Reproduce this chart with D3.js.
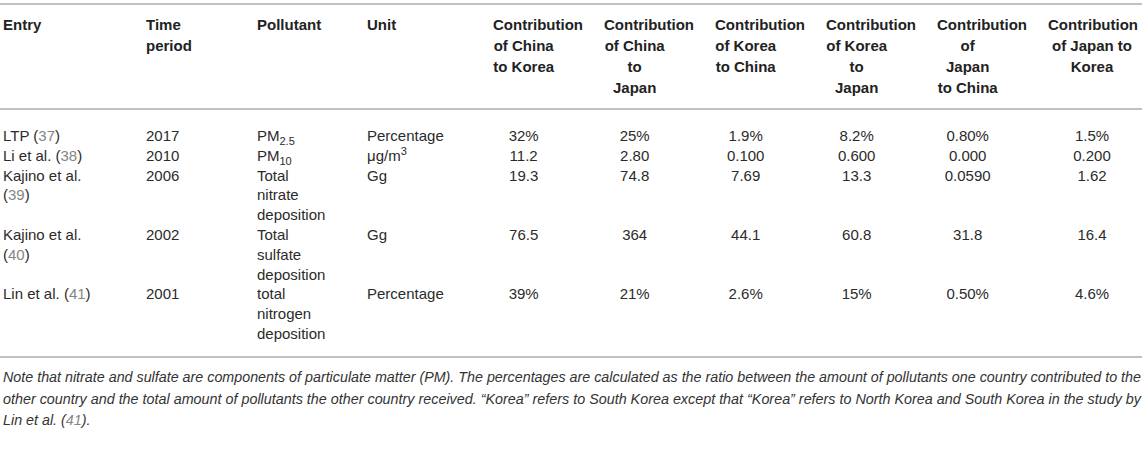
<!DOCTYPE html>
<html><head><meta charset="utf-8">
<script src="https://cdn.jsdelivr.net/npm/d3@7"></script>
<style>
body{margin:0;background:#fff}
svg{display:block}
text{font-family:"Liberation Sans",Arial,Helvetica,sans-serif}
</style>
</head><body>
<svg id="c" width="1145" height="455"></svg>
<script>
// ---------- data ----------
const entryAuthors = ["LTP", "Li et al.", "Kajino et al.", "Kajino et al.", "Lin et al."];
const entryRefs = ["37", "38", "39", "40", "41"];
const timePeriods = ["2017", "2010", "2006", "2002", "2001"];
const pollutants = ["PM2.5", "PM10", "Total nitrate deposition", "Total sulfate deposition", "total nitrogen deposition"];
const units = ["Percentage", "μg/m3", "Gg", "Gg", "Percentage"];
const chinaToKorea = ["32%", "11.2", "19.3", "76.5", "39%"];
const chinaToJapan = ["25%", "2.80", "74.8", "364", "21%"];
const koreaToChina = ["1.9%", "0.100", "7.69", "44.1", "2.6%"];
const koreaToJapan = ["8.2%", "0.600", "13.3", "60.8", "15%"];
const japanToChina = ["0.80%", "0.000", "0.0590", "31.8", "0.50%"];
const japanToKorea = ["1.5%", "0.200", "1.62", "16.4", "4.6%"];
const textHeaders = [["Entry"], ["Time", "period"], ["Pollutant"], ["Unit"]];
const seriesHeaders = [
  ["Contribution", "of China", "to Korea"],
  ["Contribution", "of China", "to", "Japan"],
  ["Contribution", "of Korea", "to China"],
  ["Contribution", "of Korea", "to", "Japan"],
  ["Contribution", "of", "Japan", "to China"],
  ["Contribution", "of Japan to", "Korea"]
];
const noteLines = [
  "Note that nitrate and sulfate are components of particulate matter (PM). The percentages are calculated as the ratio between the amount of pollutants one country contributed to the",
  "other country and the total amount of pollutants the other country received. \u201cKorea\u201d refers to South Korea except that \u201cKorea\u201d refers to North Korea and South Korea in the study by",
  "Lin et al. (41)."
];

// ---------- layout ----------
const series = [chinaToKorea, chinaToJapan, koreaToChina, koreaToJapan, japanToChina, japanToKorea];
const W = 1145;
const FS = 15;
const dark = "#222", body = "#2b2b2b", refCol = "#858585", rule = "#acacac";
const svg = d3.select("#c");

const textCols = ["entry", "time", "pollutant", "unit"];
const xText = d3.scaleOrdinal().domain(textCols).range([3, 146, 257, 367]);
const wrapW = {entry: 100, time: 80, pollutant: 72, unit: 100};
const xSer = d3.scaleBand().domain(d3.range(series.length)).range([490.5, 1156.5]);
const cellW = [61.3, 61.3, 61.3, 61.3, 61.3, 88];
const cellX = i => xSer(i) + 2.5;
const cellC = i => cellX(i) + cellW[i] / 2;

const yHead = d3.scaleLinear().domain([0, 1]).range([30, 51]);
const yLine = d3.scaleLinear().domain([0, 1]).range([141, 160.8]);
const ruleY = {top: 4, head: 109, bottom: 357};
const yNote = d3.scaleLinear().domain([0, 1]).range([382, 403.5]);

// measuring helper
const meas = svg.append("text").attr("font-size", FS).attr("visibility", "hidden");
function tw(s, weight) {
  meas.attr("font-weight", weight || "normal").text(s);
  return meas.node().getComputedTextLength();
}
function wrap(s, width) {
  const words = s.split(" ");
  const lines = [];
  let cur = words[0];
  for (let k = 1; k < words.length; k++) {
    const t = cur + " " + words[k];
    if (tw(t) <= width) cur = t; else { lines.push(cur); cur = words[k]; }
  }
  lines.push(cur);
  return lines;
}
function rich(sel, s) {
  // "(NN)" references: parentheses dark, number grey
  const re = /\((\d+)\)/g;
  let last = 0, m;
  while ((m = re.exec(s)) !== null) {
    if (m.index > last) sel.append("tspan").text(s.slice(last, m.index));
    sel.append("tspan").text("(");
    sel.append("tspan").attr("fill", refCol).text(m[1]);
    sel.append("tspan").text(")");
    last = m.index + m[0].length;
  }
  if (last < s.length) sel.append("tspan").text(s.slice(last));
}

// ---------- rules ----------
svg.selectAll("line.rule").data([ruleY.top, ruleY.head, ruleY.bottom]).join("line")
  .attr("class", "rule").attr("x1", 0).attr("x2", 1142)
  .attr("y1", d => d).attr("y2", d => d)
  .attr("stroke", rule).attr("stroke-width", 1.6);

// ---------- header ----------
const gh = svg.append("g").attr("font-weight", "bold").attr("font-size", FS).attr("fill", dark);
textHeaders.forEach((lines, c) => {
  lines.forEach((ln, j) => {
    gh.append("text").attr("x", xText(textCols[c])).attr("y", yHead(j)).text(ln);
  });
});
seriesHeaders.forEach((lines, i) => {
  lines.forEach((ln, j) => {
    const w = tw(ln, "bold");
    const t = gh.append("text").attr("y", yHead(j)).text(ln);
    if (w > cellW[i]) t.attr("x", cellX(i)).attr("text-anchor", "start");
    else t.attr("x", cellC(i)).attr("text-anchor", "middle");
  });
});

// ---------- body ----------
const rows = entryAuthors.map((a, r) => {
  const entryLines = wrap(a + " (" + entryRefs[r] + ")", wrapW.entry);
  const polLines = /^PM/.test(pollutants[r]) ? [pollutants[r]] : wrap(pollutants[r], wrapW.pollutant);
  return {r, entryLines, polLines, n: Math.max(entryLines.length, polLines.length)};
});
let acc = 0;
rows.forEach(d => { d.start = acc; acc += d.n; });

const gb = svg.append("g").attr("font-size", FS).attr("fill", body);
rows.forEach(d => {
  const r = d.r;
  d.entryLines.forEach((ln, j) => {
    rich(gb.append("text").attr("x", xText("entry")).attr("y", yLine(d.start + j)), ln);
  });
  gb.append("text").attr("x", xText("time")).attr("y", yLine(d.start)).text(timePeriods[r]);
  d.polLines.forEach((ln, j) => {
    const t = gb.append("text").attr("x", xText("pollutant")).attr("y", yLine(d.start + j));
    const m = ln.match(/^PM(.+)$/);
    if (m) {
      t.append("tspan").text("PM");
      t.append("tspan").attr("font-size", 11).attr("dy", 4).text(m[1]);
    } else t.text(ln);
  });
  const ut = gb.append("text").attr("x", xText("unit")).attr("y", yLine(d.start));
  const um = units[r].match(/^(.*m)(\d)$/);
  if (um) {
    ut.append("tspan").text(um[1]);
    ut.append("tspan").attr("font-size", 11).attr("dy", -6).text(um[2]);
  } else ut.text(units[r]);
  series.forEach((s, i) => {
    gb.append("text").attr("x", cellC(i)).attr("y", yLine(d.start))
      .attr("text-anchor", "middle").text(s[r]);
  });
});

// ---------- note ----------
const gn = svg.append("g").attr("font-size", 14).attr("font-style", "italic").attr("fill", "#333");
let ratio = 1;
noteLines.forEach((ln, j) => {
  const t = gn.append("text").attr("x", 3).attr("y", yNote(j));
  rich(t, ln);
  const nat = t.node().getComputedTextLength();
  if (j < 2) {
    const target = 1141 - 3;
    if (j === 0) ratio = target / nat;
    t.attr("textLength", target).attr("lengthAdjust", "spacingAndGlyphs");
  } else {
    t.attr("textLength", nat * ratio).attr("lengthAdjust", "spacingAndGlyphs");
  }
});
meas.remove();
</script>
</body></html>
